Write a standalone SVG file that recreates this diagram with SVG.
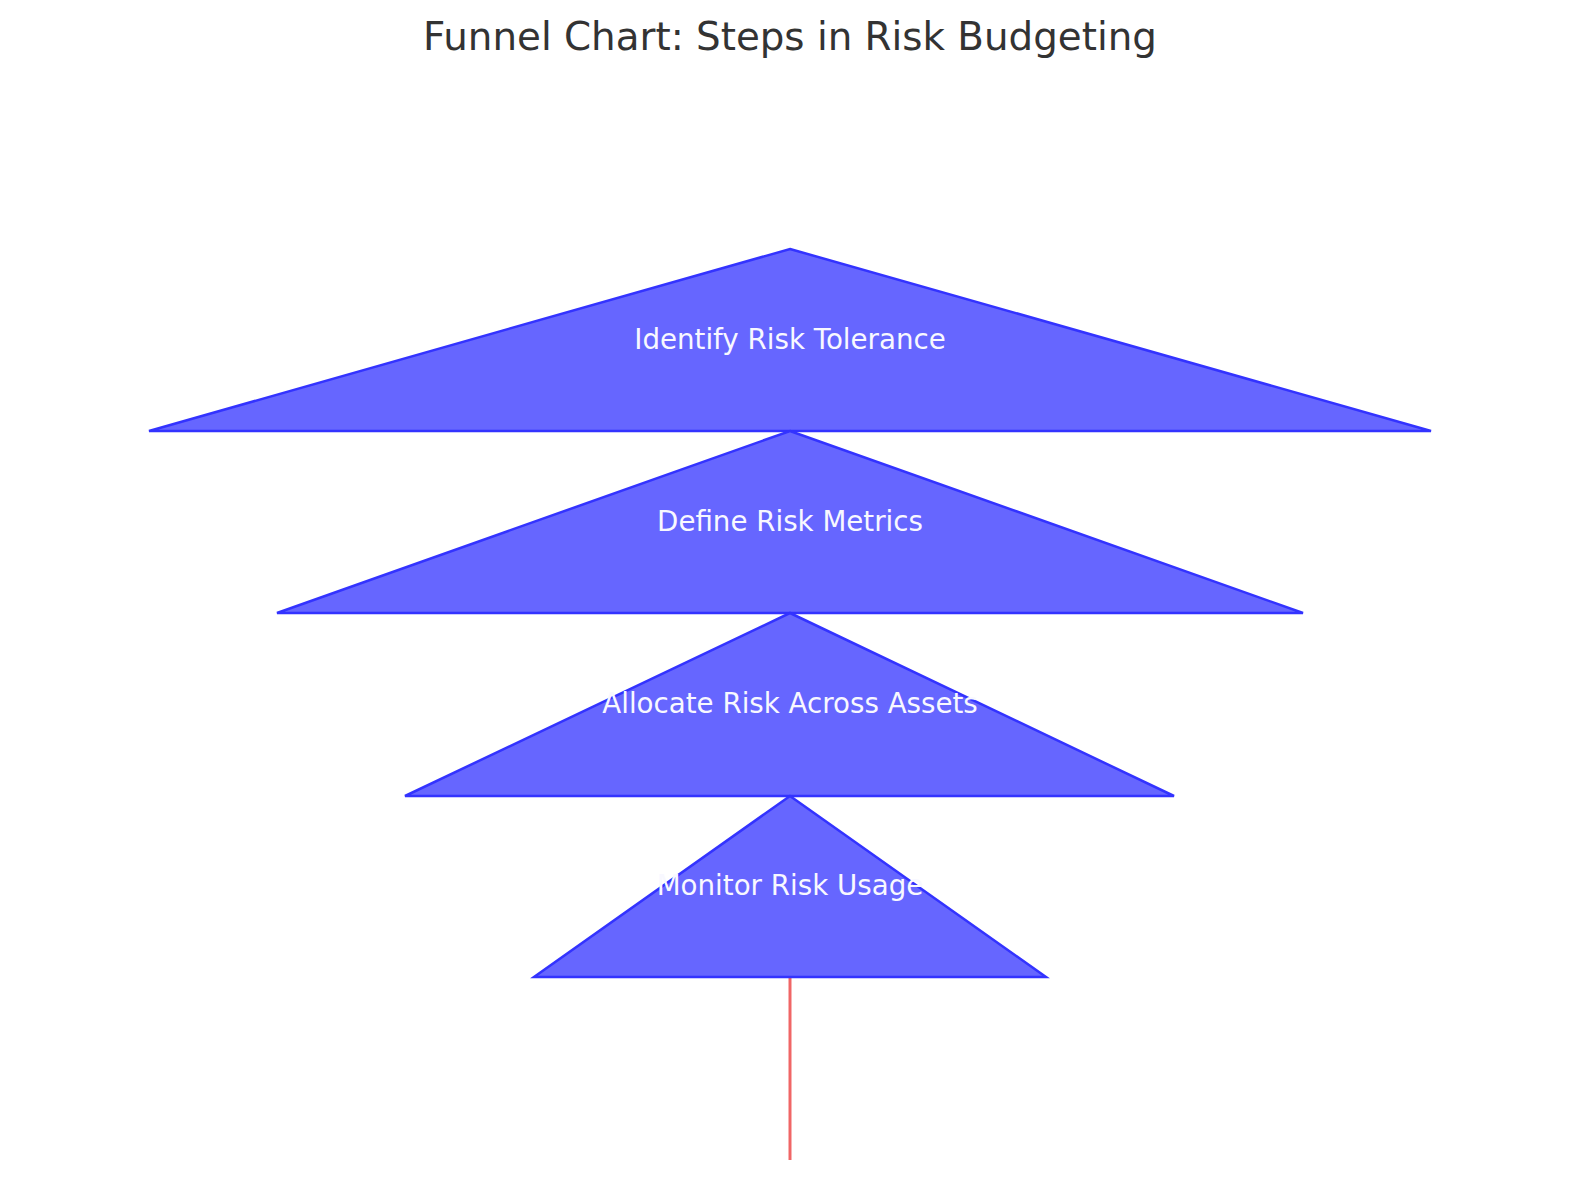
<svg xmlns="http://www.w3.org/2000/svg" width="1580" height="1180" viewBox="0 0 1580 1180">
<style>
.tri{fill:#6666ff;stroke:#3333ff;stroke-width:2.5;stroke-linejoin:miter}
.lbl{font-family:"DejaVu Sans",sans-serif;font-size:27.7px;fill:#f8f8ff;text-anchor:middle}
.title{font-family:"DejaVu Sans",sans-serif;font-size:38.8px;fill:#333333;text-anchor:middle}
.conn{stroke:#f06666;stroke-width:3;fill:none}
</style>
<rect width="1580" height="1180" fill="#ffffff"/>
<text class="title" x="790" y="50">Funnel Chart: Steps in Risk Budgeting</text>
<g id="connectors">
<line class="conn" x1="790" y1="978" x2="790" y2="1160"/>
</g>
<g id="node1">
<polygon class="tri" points="790,249 1431,431 149,431"/>
<text class="lbl" x="790" y="349">Identify Risk Tolerance</text>
</g>
<g id="node2">
<polygon class="tri" points="790,431 1303,613 277,613"/>
<text class="lbl" x="790" y="531">Define Risk Metrics</text>
</g>
<g id="node3">
<polygon class="tri" points="790,613 1174,796 405,796"/>
<text class="lbl" x="790" y="713">Allocate Risk Across Assets</text>
</g>
<g id="node4">
<polygon class="tri" points="790,796 1046,977 534,977"/>
<text class="lbl" x="790" y="895">Monitor Risk Usage</text>
</g>
</svg>
